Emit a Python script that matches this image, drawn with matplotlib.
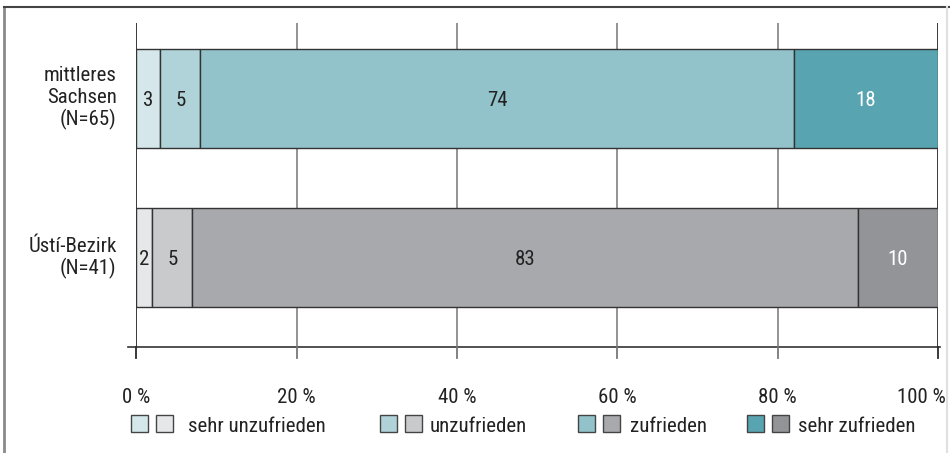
import matplotlib
matplotlib.use("Agg")
import matplotlib.pyplot as plt
from matplotlib.patches import Rectangle
from matplotlib.lines import Line2D

plt.rcParams['font.family'] = ['Roboto Condensed', 'Archivo Narrow', 'Liberation Sans', 'DejaVu Sans']

# Data
region_lines = [["mittleres", "Sachsen", "(N=65)"], ["Ústí-Bezirk", "(N=41)"]]
categories = ["sehr unzufrieden", "unzufrieden", "zufrieden", "sehr zufrieden"]
sachsen = [3, 5, 74, 18]
usti = [2, 5, 83, 10]
ticks = [0, 20, 40, 60, 80, 100]
tick_labels = ["0 %", "20 %", "40 %", "60 %", "80 %", "100 %"]

teal = ["#d5e7ea", "#afd3d8", "#92c3ca", "#58a5b1"]
grey = ["#e6e7e8", "#c9cacc", "#a8a9ad", "#939498"]
label_colors = ["#222222", "#222222", "#222222", "#ffffff"]
text_col = "#222222"
font = 15

W, H = 950, 453
fig = plt.figure(figsize=(W / 100, H / 100), dpi=100)


def fx(x):
    return x / W


def fy(y):
    return 1 - y / H


# axes placement in pixels
x0, x1 = 136.3, 938.0
y_top, y_bot = 23.0, 346.7
ax = fig.add_axes([fx(x0), fy(y_bot), (x1 - x0) / W, (y_bot - y_top) / H])
ax.set_xlim(0, 100)
ax.set_ylim(-0.560, 1.473)
for s in ax.spines.values():
    s.set_visible(False)
ax.set_yticks([])
ax.set_xticks([])
unit_px = (y_bot - y_top) / (1.473 + 0.560)

# vertical grid lines
for t in ticks:
    col = "#2a2a2a" if t in (0, 100) else "#8a8a8a"
    ax.axvline(t, color=col, lw=1.3, zorder=0)

rows = [(1, sachsen, teal), (0, usti, grey)]
bar_h = 0.625
for ypos, vals, cols in rows:
    left = 0
    for i, v in enumerate(vals):
        ax.barh(ypos, v, left=left, height=bar_h, color=cols[i],
                edgecolor="#333333", linewidth=1.0, zorder=2)
        ax.text(left + v / 2, ypos - 7.5 / unit_px, str(v), ha="center", va="baseline",
                fontsize=font, color=label_colors[i], zorder=3)
        left += v

# row labels, one text per line, right aligned
label_baselines = [[81, 103.3, 125.7], [251.7, 274]]
for lines, bases in zip(region_lines, label_baselines):
    for line, b in zip(lines, bases):
        fig.text(fx(116.5), fy(b), line, ha="right", va="baseline",
                 fontsize=font, color=text_col)

# horizontal axis line with tick marks below
ax.add_line(Line2D([-0.0105, 1.0025], [0, 0], transform=ax.transAxes,
                   color="#333333", lw=1.2, clip_on=False))
tick_len = 11.5 / (y_bot - y_top)
for t, lab in zip(ticks, tick_labels):
    col = "#2a2a2a" if t in (0, 100) else "#777777"
    ax.add_line(Line2D([t / 100, t / 100], [0, -tick_len], transform=ax.transAxes,
                       color=col, lw=1.3, clip_on=False))
    if t == 100:
        fig.text(fx(946), fy(403.3), lab, ha="right", va="baseline",
                 fontsize=font, color=text_col)
    else:
        fig.text(fx(x0 + (x1 - x0) * t / 100), fy(403.3), lab, ha="center",
                 va="baseline", fontsize=font, color=text_col)

# legend: one teal and one grey swatch per category
sq = 17
groups = [(131, 156, 188), (380, 405, 430), (578, 603, 630), (747, 772, 798)]
for k, (sa, sb, tx) in enumerate(groups):
    for sx, c in ((sa, teal[k]), (sb, grey[k])):
        fig.patches.append(Rectangle((fx(sx), fy(431.5)), sq / W, sq / H,
                                     transform=fig.transFigure,
                                     facecolor=c, edgecolor="#444444", lw=1.0))
    fig.text(fx(tx), fy(431.5), categories[k], ha="left", va="baseline",
             fontsize=font, color=text_col)

# outer frame
fig.add_artist(Line2D([fx(4), fx(4)], [0, fy(7)], transform=fig.transFigure,
                      color="#8a8a8a", lw=2.0))
fig.add_artist(Line2D([fx(4), 1], [fy(7), fy(7)], transform=fig.transFigure,
                      color="#444444", lw=1.5))
fig.add_artist(Line2D([fx(947), fx(947)], [0, fy(7)], transform=fig.transFigure,
                      color="#e0e0e0", lw=1.5))

fig.savefig("out.png", dpi=100, facecolor="white")
